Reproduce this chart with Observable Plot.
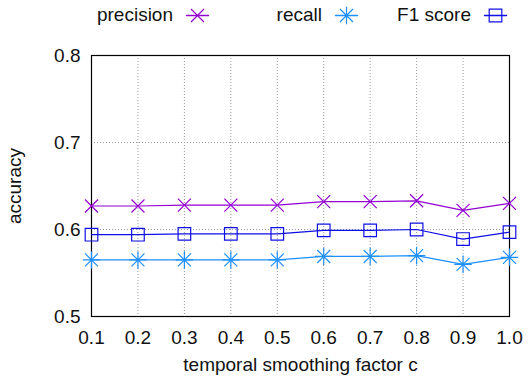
<!DOCTYPE html>
<html>
<head>
<meta charset="utf-8">
<script src="https://cdn.jsdelivr.net/npm/d3@7"></script>
<script src="https://cdn.jsdelivr.net/npm/@observablehq/plot@0.6"></script>
<style>
  html, body { margin: 0; padding: 0; background: #fff; }
  #wrap { position: relative; width: 532px; height: 380px; font-family: "Liberation Sans", Arial, Helvetica, sans-serif; }
  #legend { position: absolute; left: 0; top: 0; width: 532px; height: 30px; z-index: 2; }
  .lg-text { position: absolute; top: 3px; white-space: nowrap; transform: translateX(-100%); font-size: 19px; color: #111; line-height: 24px; }
  .lg-key { position: absolute; top: 3px; max-width: none !important; }
  #chart svg { display: block; }
</style>
</head>
<body>
<div id="wrap">
  <div id="legend"></div>
  <div id="chart"></div>
</div>
<script>
// ---- data ----
const smoothing = [0.1, 0.2, 0.3, 0.4, 0.5, 0.6, 0.7, 0.8, 0.9, 1.0];
const precision = [0.627, 0.627, 0.628, 0.628, 0.628, 0.632, 0.632, 0.633, 0.622, 0.630];
const recall    = [0.565, 0.565, 0.565, 0.565, 0.565, 0.569, 0.569, 0.570, 0.560, 0.568];
const f1score   = [0.594, 0.594, 0.595, 0.595, 0.595, 0.599, 0.599, 0.600, 0.589, 0.597];
const seriesNames = ["precision", "recall", "F1 score"];
const yTicks = [0.5, 0.6, 0.7, 0.8];
const xLabel = "temporal smoothing factor c";
const yLabel = "accuracy";

// ---- styling ----
const colors = {"precision": "#9400d3", "recall": "#1e90ff", "F1 score": "#0f0fe8"};
const H = 6.5; // half-size of markers
const symTimes = {draw(ctx) { ctx.moveTo(-H, -H); ctx.lineTo(H, H); ctx.moveTo(-H, H); ctx.lineTo(H, -H); }};
const symStar = {draw(ctx) {
  ctx.moveTo(-H, -H); ctx.lineTo(H, H); ctx.moveTo(-H, H); ctx.lineTo(H, -H);
  ctx.moveTo(-H * 1.35, 0); ctx.lineTo(H * 1.35, 0); ctx.moveTo(0, -H * 1.35); ctx.lineTo(0, H * 1.35);
}};
const S = 6.3;
const symSquare = {draw(ctx) { ctx.rect(-S, -S, 2 * S, 2 * S); }};
const symbols = {"precision": symTimes, "recall": symStar, "F1 score": symSquare};

const seriesValues = {"precision": precision, "recall": recall, "F1 score": f1score};
const rows = seriesNames.flatMap(name => smoothing.map((c, i) => ({series: name, c, v: seriesValues[name][i]})));

const fontFamily = '"Liberation Sans", Arial, Helvetica, sans-serif';

const marks = [
  Plot.gridX(smoothing, {stroke: "#999", strokeOpacity: 1, strokeDasharray: "1,2"}),
  Plot.gridY([0.6, 0.7], {stroke: "#999", strokeOpacity: 1, strokeDasharray: "1,2"}),
  Plot.axisX(smoothing, {tickSize: 0, tickPadding: 14, tickFormat: d3.format(".1f"), fontSize: 19,
    label: xLabel, labelAnchor: "center", labelOffset: 54, labelArrow: "none"}),
  Plot.axisY(yTicks, {tickSize: 0, tickPadding: 11, tickFormat: d3.format(".1f"), fontSize: 19,
    label: yLabel, labelAnchor: "center", labelOffset: 84, labelArrow: "none"}),
  Plot.frame({stroke: "black", strokeWidth: 1.2, strokeOpacity: 1})
];
for (const name of seriesNames) {
  const data = rows.filter(d => d.series === name);
  marks.push(Plot.line(data, {x: "c", y: "v", stroke: colors[name], strokeWidth: 1.2}));
  marks.push(Plot.dot(data, {x: "c", y: "v", stroke: colors[name], fill: "none", strokeWidth: 1.2, symbol: () => symbols[name], r: 6}));
}

const chart = Plot.plot({
  width: 532,
  height: 380,
  marginTop: 55,
  marginRight: 23,
  marginBottom: 64,
  marginLeft: 91,
  style: {fontFamily, fontSize: "19px", color: "#111", background: "#fff"},
  x: {type: "linear", domain: [0.1, 1.0]},
  y: {type: "linear", domain: [0.5, 0.8]},
  symbol: {type: "identity"},
  marks
});
document.getElementById("chart").appendChild(chart);

// ---- legend (above the plot area) ----
const legend = document.getElementById("legend");
const legendTextEnd = {"precision": 173, "recall": 322, "F1 score": 471};
for (const name of seriesNames) {
  const t = document.createElement("span");
  t.className = "lg-text";
  t.style.left = legendTextEnd[name] + "px";
  t.textContent = name;
  legend.appendChild(t);
  const key = Plot.plot({
    width: 22, height: 24, margin: 0,
    x: {domain: [0, 1], axis: null}, y: {domain: [0, 1], axis: null},
    symbol: {type: "identity"},
    style: {background: "transparent", overflow: "visible"},
    marks: [
      Plot.line([{a: 0, b: 0.5}, {a: 1, b: 0.5}], {x: "a", y: "b", stroke: colors[name], strokeWidth: 1.4}),
      Plot.dot([{a: 0.5, b: 0.5}], {x: "a", y: "b", stroke: colors[name], fill: "none", strokeWidth: 1.2, symbol: () => symbols[name], r: 6})
    ]
  });
  key.classList.add("lg-key");
  key.style.left = (legendTextEnd[name] + 13) + "px";
  legend.appendChild(key);
}
</script>
</body>
</html>
